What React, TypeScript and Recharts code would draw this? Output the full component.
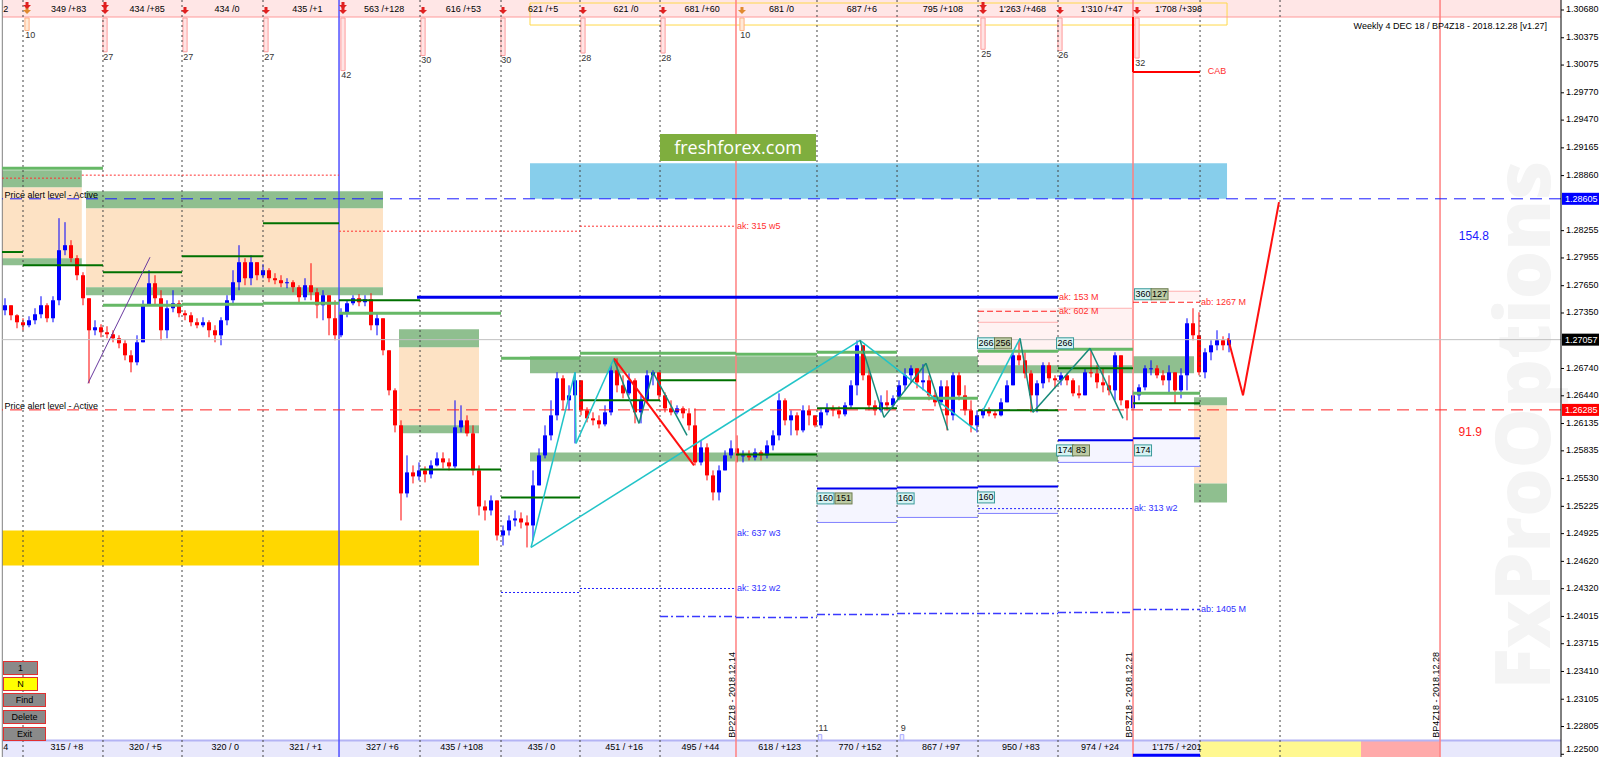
import React from 'react';
import { ComposedChart, Bar, XAxis, YAxis, ReferenceLine, ReferenceArea, ReferenceDot } from 'recharts';

// candles: open of the first bar, then each bar opens at the previous close
const OPEN0 = 1.2738;
const closes = [
  1.27435, 1.27325, 1.27248, 1.27215, 1.2727, 1.27336, 1.27435, 1.27292, 1.2749, 1.2804,
  1.28095, 1.27952, 1.27765, 1.27512, 1.2716, 1.27193, 1.27138, 1.27116, 1.27072, 1.27017,
  1.26885, 1.26808, 1.27028, 1.27435, 1.27677, 1.27512, 1.2716, 1.27402, 1.27457, 1.27347,
  1.27325, 1.27248, 1.27215, 1.27248, 1.2716, 1.27105, 1.2727, 1.2749, 1.27688, 1.27908,
  1.27732, 1.27908, 1.27765, 1.2782, 1.27732, 1.2771, 1.27677, 1.27688, 1.27633, 1.27523,
  1.27655, 1.27578, 1.27435, 1.27545, 1.27292, 1.27105, 1.27358, 1.27457, 1.27512, 1.27468,
  1.27501, 1.27215, 1.27292, 1.2694, 1.265, 1.26115, 1.25367, 1.25598, 1.25554, 1.2562,
  1.25576, 1.25675, 1.25752, 1.25708, 1.25664, 1.26093, 1.2617, 1.26027, 1.2562, 1.25224,
  1.2518, 1.2529, 1.24905, 1.2496, 1.2507, 1.25092, 1.25048, 1.25015, 1.25455, 1.25785,
  1.26005, 1.26225, 1.26632, 1.2639, 1.26445, 1.2661, 1.2628, 1.26192, 1.2617, 1.26126,
  1.26258, 1.2672, 1.26555, 1.26467, 1.2661, 1.26258, 1.2639, 1.26665, 1.26698, 1.26445,
  1.26302, 1.26258, 1.26302, 1.26247, 1.26115, 1.25708, 1.25873, 1.25565, 1.25378, 1.2562,
  1.25785, 1.25862, 1.25785, 1.25785, 1.25763, 1.25818, 1.25785, 1.25895, 1.26005, 1.2639,
  1.2617, 1.26225, 1.2606, 1.2628, 1.26225, 1.26115, 1.26258, 1.26302, 1.2628, 1.26236,
  1.26335, 1.26555, 1.26995, 1.26665, 1.26335, 1.2628, 1.26368, 1.26335, 1.26412, 1.26555,
  1.26665, 1.26742, 1.26588, 1.2661, 1.26445, 1.26368, 1.26544, 1.26225, 1.26665, 1.26445,
  1.2628, 1.26115, 1.26225, 1.2628, 1.26247, 1.26225, 1.26368, 1.26555, 1.26885, 1.2683,
  1.26687, 1.26445, 1.26577, 1.26775, 1.26632, 1.2661, 1.26665, 1.2661, 1.26467, 1.26445,
  1.26698, 1.26687, 1.26588, 1.26555, 1.265, 1.26885, 1.2639, 1.26302, 1.26445, 1.26533,
  1.26742, 1.26742, 1.26665, 1.2661, 1.26698, 1.265, 1.26665, 1.27237, 1.27105, 1.26698,
  1.26918, 1.26995, 1.2705, 1.26995, 1.27057,
];
const highs = [
  1.27512, 1.27435, 1.27336, 1.27292, 1.27314, 1.27402, 1.27534, 1.27457, 1.27534, 1.28392,
  1.28348, 1.2815, 1.27985, 1.27798, 1.27512, 1.2727, 1.27226, 1.27204, 1.2716, 1.27105,
  1.2705, 1.2694, 1.27105, 1.2749, 1.2782, 1.27765, 1.276, 1.2749, 1.276, 1.2749,
  1.2738, 1.27358, 1.27292, 1.27303, 1.2727, 1.27215, 1.27303, 1.27545, 1.2782, 1.28095,
  1.27952, 1.27985, 1.27908, 1.27886, 1.27842, 1.27787, 1.27765, 1.27732, 1.2771, 1.27655,
  1.27732, 1.27897, 1.27622, 1.276, 1.2749, 1.2749, 1.27402, 1.2749, 1.27545, 1.27556,
  1.27545, 1.27567, 1.27358, 1.27248, 1.2694, 1.26522, 1.2617, 1.25785, 1.25675, 1.25708,
  1.25664, 1.2573, 1.25818, 1.25818, 1.25752, 1.2639, 1.26335, 1.26225, 1.26115, 1.25675,
  1.2529, 1.25345, 1.25235, 1.25015, 1.25125, 1.2518, 1.25158, 1.25125, 1.2562, 1.25862,
  1.26115, 1.2639, 1.26698, 1.26665, 1.26555, 1.26698, 1.2639, 1.26313, 1.26258, 1.26225,
  1.26335, 1.26775, 1.26852, 1.26665, 1.26687, 1.26632, 1.26445, 1.2672, 1.2672, 1.26665,
  1.26478, 1.2639, 1.26335, 1.26324, 1.26302, 1.26302, 1.2595, 1.25917, 1.2562, 1.25675,
  1.2584, 1.2595, 1.26005, 1.2584, 1.2584, 1.25862, 1.2584, 1.2595, 1.2606, 1.26467,
  1.26412, 1.2628, 1.26258, 1.26335, 1.26335, 1.26225, 1.26302, 1.26357, 1.26335, 1.26324,
  1.26368, 1.2661, 1.2705, 1.26995, 1.2672, 1.2639, 1.26445, 1.265, 1.26445, 1.2661,
  1.26742, 1.26775, 1.26742, 1.26786, 1.26665, 1.265, 1.2661, 1.2661, 1.26698, 1.26698,
  1.26555, 1.2639, 1.2628, 1.26302, 1.26313, 1.2628, 1.26412, 1.2661, 1.2694, 1.27061,
  1.2694, 1.2672, 1.2661, 1.26808, 1.26808, 1.26665, 1.26698, 1.26687, 1.26632, 1.26555,
  1.26742, 1.26962, 1.26775, 1.26742, 1.26665, 1.26918, 1.26775, 1.2639, 1.265, 1.26566,
  1.26775, 1.2683, 1.26775, 1.2672, 1.26775, 1.26698, 1.26742, 1.27292, 1.27402, 1.27358,
  1.26962, 1.2705, 1.2716, 1.27094, 1.27127,
];
const lows = [
  1.27325, 1.2727, 1.27182, 1.2716, 1.27193, 1.27226, 1.27292, 1.27248, 1.27248, 1.27435,
  1.27985, 1.27908, 1.2771, 1.27435, 1.26577, 1.27105, 1.27083, 1.27072, 1.27028, 1.26962,
  1.2683, 1.26698, 1.26775, 1.2705, 1.27435, 1.27435, 1.2705, 1.27072, 1.27358, 1.27303,
  1.2727, 1.27204, 1.27182, 1.27193, 1.27083, 1.27028, 1.26995, 1.27215, 1.27435, 1.276,
  1.27655, 1.27655, 1.2771, 1.27732, 1.27688, 1.27666, 1.27633, 1.27622, 1.27578, 1.27468,
  1.2749, 1.2749, 1.27292, 1.2727, 1.27105, 1.2705, 1.27083, 1.27303, 1.27435, 1.27424,
  1.27424, 1.2716, 1.27105, 1.26885, 1.26445, 1.26038, 1.2507, 1.25323, 1.25477, 1.2551,
  1.25488, 1.25532, 1.25664, 1.25642, 1.2562, 1.25642, 1.26038, 1.25994, 1.25565, 1.25125,
  1.2507, 1.25125, 1.2485, 1.24795, 1.24905, 1.25004, 1.24982, 1.24773, 1.2485, 1.25455,
  1.25752, 1.2595, 1.2617, 1.2628, 1.2628, 1.25917, 1.26225, 1.26148, 1.26115, 1.26082,
  1.26104, 1.26225, 1.26478, 1.26412, 1.26445, 1.26137, 1.26137, 1.26368, 1.26555, 1.2639,
  1.26258, 1.26225, 1.26236, 1.26192, 1.2606, 1.25675, 1.25675, 1.2551, 1.2529, 1.2529,
  1.2562, 1.25752, 1.25708, 1.25708, 1.2573, 1.2573, 1.2573, 1.25752, 1.2584, 1.2595,
  1.26115, 1.26005, 1.26005, 1.26038, 1.26115, 1.26093, 1.26082, 1.26225, 1.26214, 1.26192,
  1.26214, 1.26302, 1.26445, 1.2661, 1.2628, 1.26225, 1.26258, 1.2628, 1.26302, 1.2639,
  1.265, 1.26588, 1.26522, 1.265, 1.2639, 1.26324, 1.26335, 1.2606, 1.2617, 1.2639,
  1.26225, 1.26038, 1.26038, 1.26192, 1.26214, 1.26192, 1.26214, 1.26368, 1.26555, 1.26775,
  1.26632, 1.26258, 1.26258, 1.26522, 1.26588, 1.26522, 1.26555, 1.26555, 1.26434, 1.26412,
  1.26478, 1.26643, 1.26522, 1.26478, 1.26445, 1.2639, 1.26335, 1.2617, 1.26368, 1.2639,
  1.265, 1.26665, 1.26632, 1.26555, 1.26467, 1.26357, 1.26412, 1.265, 1.2705, 1.26665,
  1.26632, 1.2683, 1.2694, 1.2694, 1.26918,
];

// axis ticks (1.28555 and 1.27045 sit under the price boxes, so they are left out)
const priceTicks = [
  1.3068, 1.30375, 1.30075, 1.2977, 1.2947, 1.29165, 1.2886, 1.28255, 1.27955,
  1.2765, 1.2735, 1.2674, 1.2644, 1.26135, 1.25835, 1.2553, 1.25225, 1.24925,
  1.2462, 1.2432, 1.24015, 1.23715, 1.2341, 1.23105, 1.22805, 1.225,
];
const alertHigh = 1.28605;
const alertLow = 1.26285;
const lastPrice = 1.27057;

// session separators, in bar index
const sessionX = [3, 16.33, 29.5, 43, 55.67, 69.17, 82.67, 95.83, 109.17, 121.83, 135.33, 148.67, 162.17, 175.5, 188, 199.17, 212.5, 239.17];
const sessionKind = ['d', 'd', 'd', 'd', 'b', 'd', 'd', 'd', 'd', 'r', 'd', 'd', 'd', 'd', 'r', 'd', 'd', 'r'];

const statPos = [10.6, 23.7, 37, 50.4, 63.2, 76.4, 89.7, 103.5, 116.2, 129.4, 142.8, 156.3, 169.6, 182.8, 195.6];
const topStats = ['349 /+83', '434 /+85', '434 /0', '435 /+1', '563 /+128', '616 /+53', '621 /+5', '621 /0', '681 /+60', '681 /0', '687 /+6', '795 /+108', "1'263 /+468", "1'310 /+47", "1'708 /+398"];
const bottomStats = ['315 / +8', '320 / +5', '320 / 0', '321 / +1', '327 / +6', '435 / +108', '435 / 0', '451 / +16', '495 / +44', '618 / +123', '770 / +152', '867 / +97', '950 / +83', '974 / +24', "1'175 / +201"];

const markAt = [3.67, 16.67, 30, 43.5, 56.33, 69.67, 83, 96.33, 109.67, 122.83, 163, 175.83, 188.67];
const markCount = [10, 27, 27, 27, 42, 30, 30, 28, 28, 10, 25, 26, 32];
const markDouble = [3.67, 16.67, 56.33, 163];

const rolloverX = [121.83, 188, 239.17];
const rolloverText = ['BP2Z18 - 2018.12.14', 'BP3Z18 - 2018.12.21', 'BP4Z18 - 2018.12.28'];

// zones [x1, x2, top, bottom]
const peachZones = [
  [-0.5, 12.8, 1.28733, 1.27952],
  [13.5, 63, 1.28502, 1.27633],
  [65.67, 79, 1.26973, 1.26115],
  [198.17, 203.67, 1.26335, 1.25477],
];
const greenZones = [
  [-0.5, 12.8, 1.2892, 1.28733],
  [-0.5, 12.8, 1.27952, 1.27875],
  [13.5, 63, 1.28689, 1.28502],
  [13.5, 63, 1.27633, 1.27545],
  [65.67, 79, 1.27171, 1.26973],
  [65.67, 79, 1.26115, 1.26027],
  [198.17, 203.67, 1.26423, 1.26335],
  [198.17, 203.67, 1.25477, 1.25268],
  [87.5, 198.17, 1.26874, 1.26687],
  [87.5, 198.17, 1.25818, 1.25719],
];
const skyZone = [87.5, 203.67, 1.28997, 1.28605];
const goldZone = [-0.5, 79, 1.2496, 1.24575];
const pinkZones = [
  [162.17, 188, 1.27402, 1.26775],
  [188, 199.17, 1.27589, 1.2749],
];
const lavenderZones = [
  [135.33, 148.67, 1.25422, 1.25048],
  [148.67, 162.17, 1.25433, 1.25103],
  [162.17, 175.5, 1.25444, 1.25147],
  [175.5, 188, 1.2595, 1.25708],
  [188, 199.17, 1.25972, 1.25664],
];

// level segments [x1, x2, price]
const darkGreen = [
  [-0.5, 3, 1.2802], [3, 16.33, 1.27875], [16.33, 29.5, 1.27798], [29.5, 43, 1.27974],
  [43, 55.67, 1.28337], [55.67, 69.17, 1.2749], [69.17, 82.67, 1.25631], [82.67, 95.83, 1.25323],
  [95.83, 109.17, 1.2639], [109.17, 121.83, 1.2661], [121.83, 135.33, 1.25796], [135.33, 148.67, 1.26302],
  [162.17, 175.5, 1.2628], [175.5, 188, 1.26742], [188, 199.17, 1.26357],
];
const lightGreen = [
  [-0.5, 16.33, 1.28942], [16.33, 29.5, 1.27435], [29.5, 43, 1.27446], [43, 55.67, 1.27457],
  [55.67, 82.67, 1.27347], [82.67, 95.83, 1.26852], [95.83, 121.83, 1.26907], [121.83, 135.33, 1.26896],
  [135.33, 148.67, 1.26918], [148.67, 162.17, 1.26412], [162.17, 175.5, 1.26929], [175.5, 188, 1.26951],
  [188, 199.17, 1.26467],
];
const blueLevels = [
  [68.67, 175.5, 1.27523], [135.33, 148.67, 1.25422], [148.67, 162.17, 1.25433],
  [162.17, 175.5, 1.25444], [175.5, 188, 1.2595], [188, 199.17, 1.25972],
];
const thinBlue = [
  [135.33, 148.67, 1.25048], [148.67, 162.17, 1.25103], [162.17, 175.5, 1.25147],
  [175.5, 188, 1.25708], [188, 199.17, 1.25664],
];
const blueDotted = [[82.67, 95.83, 1.24278], [95.83, 121.83, 1.24322], [162.17, 188, 1.252]];
const blueDashDot = [
  [109.17, 121.83, 1.24014], [121.83, 135.33, 1.24003], [135.33, 148.67, 1.24036],
  [148.67, 175.5, 1.24047], [175.5, 188, 1.24058], [188, 199.17, 1.24091],
];
const redDotted = [[-0.5, 12.8, 1.28832], [12.8, 55.67, 1.28865], [55.67, 95.83, 1.28249], [95.83, 121.83, 1.28304]];
const redDashed = [[162.17, 175.5, 1.27369], [188, 199.17, 1.27468]];
const pinkLevels = [[162.17, 175.5, 1.27248], [175.5, 188, 1.27402], [188, 199.17, 1.27589]];
const cabLevel = [188, 199.17, 1.29998, 1.30603];

// zigzags, points [bar index, price]
const cyanPaths = [
  [[87.67, 1.24773], [95, 1.26698], [95.17, 1.25917], [101.5, 1.26852]],
  [[87.67, 1.24773], [142.5, 1.2705], [161.83, 1.2606]],
  [[163, 1.2628], [169.17, 1.27072]],
];
const tealPaths = [
  [[101.5, 1.2683], [105.67, 1.26137], [108, 1.26698], [113.67, 1.26005]],
  [[142.5, 1.2705], [146.5, 1.26203], [153.5, 1.26797], [157.17, 1.2606]],
  [[169.17, 1.27072], [171.33, 1.26258], [180.83, 1.26962], [186.33, 1.26192]],
];
const redPaths = [
  [[101.5, 1.26852], [114.83, 1.25675]],
  [[203.83, 1.27072], [206.33, 1.26445], [212.33, 1.28568]],
];
const purplePath = [[13.83, 1.26577], [24.17, 1.27963]];

// notes [text, bar index, price]
const redNotes = [
  ['ak: 315 w5', 121.83, 1.28304], ['ak: 153 M', 175.5, 1.27523], ['ak: 602 M', 175.5, 1.27369],
  ['ab: 1267 M', 199.17, 1.27468], ['CAB', 200.3, 1.29998],
];
const blueNotes = [
  ['ak: 637 w3', 121.83, 1.24927], ['ak: 312 w2', 121.83, 1.24322],
  ['ak: 313 w2', 188, 1.252], ['ab: 1405 M', 199.17, 1.24091],
];
// tags [text, bar index, price, kind]
const tags = [
  ['160', 136.75, 1.25312, 'c'], ['151', 139.75, 1.25312, 'g'], ['160', 150.1, 1.25312, 'c'],
  ['160', 163.5, 1.25323, 'c'], ['174', 176.67, 1.2584, 'c'], ['83', 179.33, 1.2584, 'g'],
  ['174', 189.67, 1.2584, 'c'], ['266', 163.5, 1.27017, 'c'], ['256', 166.33, 1.27017, 'g'],
  ['266', 176.67, 1.27017, 'c'], ['360', 189.67, 1.27556, 'c'], ['127', 192.42, 1.27556, 'g'],
];

const candles = closes.map((c, i) => {
  const o = i === 0 ? OPEN0 : closes[i - 1];
  const h = Math.max(highs[i], o, c);
  const l = Math.min(lows[i], o, c);
  return { i, open: o, close: c, high: h, low: l, range: [l, h] };
});

const Candle = (props: any) => {
  const { x, y, width, height, payload } = props;
  if (!payload || height == null) return null;
  const up = payload.close >= payload.open;
  const color = up ? '#0000ff' : '#ff0000';
  const k = height / Math.max(payload.high - payload.low, 1e-9);
  const mid = x + width / 2;
  const top = y + (payload.high - Math.max(payload.open, payload.close)) * k;
  const bh = Math.max(Math.abs(payload.open - payload.close) * k, 1);
  return (
    <g>
      <line x1={mid} x2={mid} y1={y} y2={y + height} stroke={color} strokeWidth={1} />
      <rect x={x} y={top} width={width} height={bh} fill={color} />
    </g>
  );
};

// price tick, kept inside the frame at the very bottom
const PriceTick = (props: any) => {
  const { x, y, payload } = props;
  return (
    <text x={x} y={Math.min(y, 750)} fontSize={9} fill="#000" dominantBaseline="middle">{Number(payload.value).toFixed(5)}</text>
  );
};

const seg = (key: string, x1: number, y1: number, x2: number, y2: number, stroke: string, w: number, dash?: string) => (
  <ReferenceLine key={key} segment={[{ x: x1, y: y1 }, { x: x2, y: y2 }]} stroke={stroke} strokeWidth={w} strokeDasharray={dash} ifOverflow="visible" />
);
const area = (key: string, z: number[], fill: string, op = 1, stroke = 'none') => (
  <ReferenceArea key={key} x1={z[0]} x2={z[1]} y1={z[2]} y2={z[3]} fill={fill} fillOpacity={op} stroke={stroke} ifOverflow="visible" />
);
const at = (key: string, x: number, y: number, draw: (cx: number, cy: number) => React.ReactElement) => (
  <ReferenceDot key={key} x={x} y={y} r={0} ifOverflow="visible" shape={(p: any) => draw(p.cx, p.cy)} />
);
const path = (key: string, pts: number[][], stroke: string, w: number) =>
  pts.slice(1).map((p, j) => seg(`${key}-${j}`, pts[j][0], pts[j][1], p[0], p[1], stroke, w));

const btn = (label: string, top: number, w: number, bg: string) => (
  <div key={label} style={{ position: 'absolute', left: 3, top, width: w, height: 12, background: bg, border: '1px solid #e03030', fontSize: 9, lineHeight: '12px', textAlign: 'center', color: '#000' }}>{label}</div>
);

export default function App() {
  return (
    <div style={{ position: 'absolute', left: 0, top: 0, width: 1600, height: 757, background: '#fff', fontFamily: '"Liberation Sans", Arial, sans-serif', overflow: 'hidden' }}>
      <div style={{ position: 'absolute', left: 1520, top: 425, transform: 'translate(-50%, -50%) rotate(-90deg)', fontFamily: '"Open Sans", sans-serif', fontWeight: 800, fontSize: 76, color: '#f4f4f4', whiteSpace: 'nowrap' }}>FxProOptions</div>
      <div style={{ position: 'absolute', left: 0, top: 0 }}>
        <ComposedChart width={1600} height={757} data={candles} margin={{ top: 0, right: 0, bottom: 0, left: 2 }}>
          <XAxis dataKey="i" type="number" domain={[-0.5, 259.33]} allowDataOverflow hide />
          <YAxis orientation="right" domain={[1.2247, 1.3079]} allowDataOverflow ticks={priceTicks} interval={0} width={39} tickSize={3} tickMargin={2}
            tick={<PriceTick />} axisLine={{ stroke: '#000' }} tickLine={{ stroke: '#000' }} />

          {area('topbar', [-0.5, 259.33, 1.3079, 1.30603], '#ffe6e6')}
          {area('botbar', [-0.5, 259.33, 1.2265, 1.2247], '#e8e8fc')}
          {area('botyel', [199.17, 226, 1.2265, 1.2247], '#fff890')}
          {area('botpink', [226, 239.17, 1.2265, 1.2247], '#ffaaaa')}
          {seg('topline', -0.5, 1.30603, 259.33, 1.30603, '#ff9a9a', 1)}
          {seg('botline', -0.5, 1.2265, 259.33, 1.2265, '#b4b4f4', 2)}
          {area('topbox', [87.5, 203.67, 1.30757, 1.30515], 'none', 1, '#ffd84a')}

          {peachZones.map((z, k) => area(`pz${k}`, z, '#fde2c4'))}
          {greenZones.map((z, k) => area(`gz${k}`, z, '#8fbf8f'))}
          {area('sky', skyZone, '#87ceeb')}
          {area('gold', goldZone, '#ffd700')}
          {pinkZones.map((z, k) => area(`pk${k}`, z, '#fff2f2'))}
          {lavenderZones.map((z, k) => area(`lv${k}`, z, '#f5f5ff'))}

          <ReferenceLine x={-0.45} stroke="#808080" ifOverflow="visible" />
          {sessionX.map((sx, k) => (
            <ReferenceLine key={`s${k}`} x={sx} ifOverflow="visible"
              stroke={sessionKind[k] === 'b' ? '#5050ff' : sessionKind[k] === 'r' ? '#ff8080' : '#444'}
              strokeWidth={sessionKind[k] === 'd' ? 1 : 1.5} strokeDasharray={sessionKind[k] === 'd' ? '2 3' : undefined} />
          ))}

          {markAt.map((m, k) => area(`mk${k}`, [m - 0.35, m + 0.35, 1.30592, 1.30592 - markCount[k] * 0.0001375],
            markCount[k] === 10 ? '#ffe9d6' : '#ffe4e4', 1, markCount[k] === 10 ? '#ffb080' : '#ff9c9c'))}
          {markAt.map((m, k) => at(`mt${k}`, m - 0.3, 1.30592 - markCount[k] * 0.0001375 - 0.0006, (cx, cy) => (
            <text x={cx} y={cy} fontSize={9} fill="#333" dominantBaseline="middle">{markCount[k]}</text>
          )))}
          {markAt.map((m, k) => at(`ma${k}`, m, 1.3067, (cx, cy) => (
            <path d={`M${cx - 4},${cy - 1} L${cx + 4},${cy - 1} L${cx},${cy + 3} Z M${cx - 1.5},${cy - 4} h3 v3 h-3 Z`} fill={markCount[k] === 10 ? '#e08a30' : '#e02020'} />
          )))}
          {markDouble.map((m, k) => at(`md${k}`, m, 1.30725, (cx, cy) => (
            <path d={`M${cx - 4},${cy - 1} L${cx + 4},${cy - 1} L${cx},${cy + 3} Z M${cx - 1.5},${cy - 4} h3 v3 h-3 Z`} fill="#e02020" />
          )))}
          {topStats.map((t, k) => at(`ts${k}`, statPos[k], 1.3068, (cx, cy) => (
            <text x={cx} y={cy} fontSize={9} fill="#000" textAnchor="middle" dominantBaseline="middle">{t}</text>
          )))}
          {bottomStats.map((t, k) => at(`bs${k}`, statPos[k] - 0.3, 1.22573, (cx, cy) => (
            <text x={cx} y={cy} fontSize={9} fill="#000" textAnchor="middle" dominantBaseline="middle">{t}</text>
          )))}
          {at('t2', -0.3, 1.3068, (cx, cy) => <text x={cx} y={cy} fontSize={9} dominantBaseline="middle">2</text>)}
          {at('b4', -0.3, 1.22573, (cx, cy) => <text x={cx} y={cy} fontSize={9} dominantBaseline="middle">4</text>)}
          {[135.83, 149.5].map((m, k) => area(`bm${k}`, [m - 0.3, m + 0.3, 1.22716, 1.2265], '#eef0ff', 1, '#a8a8ff'))}
          {[['11', 135.6], ['9', 149.3]].map(([t, m], k) => at(`bt${k}`, m as number, 1.2278, (cx, cy) => (
            <text x={cx} y={cy} fontSize={9} fill="#333" dominantBaseline="middle">{t}</text>
          )))}
          {seg('botblue', 188, 1.2249, 199.17, 1.2249, '#0000ff', 3)}

          <Bar dataKey="range" barSize={4} shape={<Candle />} isAnimationActive={false} />

          <ReferenceLine y={lastPrice} stroke="#c0c0c0" ifOverflow="visible" />
          <ReferenceLine y={alertHigh} stroke="#1a1aff" strokeDasharray="12 7" ifOverflow="visible" />
          <ReferenceLine y={alertLow} stroke="#ff2020" strokeDasharray="12 7" ifOverflow="visible" />

          {redDotted.map((s, k) => seg(`rd${k}`, s[0], s[2], s[1], s[2], '#ff3030', 1, '2 2'))}
          {pinkLevels.map((s, k) => seg(`pl${k}`, s[0], s[2], s[1], s[2], '#ffb0b0', 1))}
          {redDashed.map((s, k) => seg(`rx${k}`, s[0], s[2], s[1], s[2], '#ff2020', 1, '6 3'))}
          {blueDotted.map((s, k) => seg(`bd${k}`, s[0], s[2], s[1], s[2], '#2020ff', 1, '2 2'))}
          {blueDashDot.map((s, k) => seg(`bx${k}`, s[0], s[2], s[1], s[2], '#3a3aff', 1.5, '8 3 2 3'))}
          {thinBlue.map((s, k) => seg(`tb${k}`, s[0], s[2], s[1], s[2], '#8080ff', 1))}
          {blueLevels.map((s, k) => seg(`bl${k}`, s[0], s[2], s[1], s[2], '#0000ee', k === 0 ? 3 : 2))}
          {lightGreen.map((s, k) => seg(`lg${k}`, s[0], s[2], s[1], s[2], '#66b866', 3))}
          {darkGreen.map((s, k) => seg(`dg${k}`, s[0], s[2], s[1], s[2], '#007000', 2))}
          {seg('cabv', cabLevel[0], cabLevel[3], cabLevel[0], cabLevel[2], '#ff0000', 2)}
          {seg('cabh', cabLevel[0], cabLevel[2], cabLevel[1], cabLevel[2], '#ff0000', 2)}

          {cyanPaths.map((p, k) => path(`cy${k}`, p, '#22c4c8', 1.5))}
          {tealPaths.map((p, k) => path(`te${k}`, p, '#178a7a', 1.5))}
          {redPaths.map((p, k) => path(`rp${k}`, p, '#ff1010', 2))}
          {path('pu', purplePath, '#6a3aa0', 1)}

          {redNotes.map(([t, x, y], k) => at(`rn${k}`, x as number, y as number, (cx, cy) => (
            <text x={cx + 1} y={cy} fontSize={9} fill="#ff3030" dominantBaseline="middle">{t}</text>
          )))}
          {blueNotes.map(([t, x, y], k) => at(`bn${k}`, x as number, y as number, (cx, cy) => (
            <text x={cx + 1} y={cy} fontSize={9} fill="#3030ff" dominantBaseline="middle">{t}</text>
          )))}
          {tags.map(([t, x, y, kind], k) => at(`tg${k}`, x as number, y as number, (cx, cy) => (
            <g>
              <rect x={cx - 8.5} y={cy - 5.5} width={17} height={11} fill={kind === 'c' ? '#d6f3f3' : '#bccaa4'} stroke={kind === 'c' ? '#3a9a9a' : '#6c7c50'} />
              <text x={cx} y={cy + 0.5} fontSize={9} fill="#000" textAnchor="middle" dominantBaseline="middle">{t}</text>
            </g>
          )))}
          {rolloverX.map((rx, k) => at(`ro${k}`, rx - 0.15, 1.22683, (cx, cy) => (
            <text x={cx} y={cy} fontSize={9} fill="#000" transform={`rotate(-90 ${cx} ${cy})`}>{rolloverText[k]}</text>
          )))}
          {at('pa1', -0.1, alertHigh, (cx, cy) => <text x={cx} y={cy - 1} fontSize={9} fill="#000">Price alert level - Active</text>)}
          {at('pa2', -0.1, alertLow, (cx, cy) => <text x={cx} y={cy - 1} fontSize={9} fill="#000">Price alert level - Active</text>)}
          {at('n1', 244.8, 1.28183, (cx, cy) => <text x={cx} y={cy} fontSize={12} fill="#2020ff" textAnchor="middle" dominantBaseline="middle">154.8</text>)}
          {at('n2', 244.2, 1.26038, (cx, cy) => <text x={cx} y={cy} fontSize={12} fill="#ff2020" textAnchor="middle" dominantBaseline="middle">91.9</text>)}

          {[[alertHigh, '#0000ff', '#fff'], [alertLow, '#ff0000', '#fff'], [lastPrice, '#000', '#fff']].map(([p, bg, fg], k) =>
            at(`px${k}`, 259.33, p as number, (cx, cy) => (
              <g>
                <rect x={cx + 1} y={cy - 6} width={37} height={12} fill={bg as string} />
                <text x={cx + 4} y={cy + 0.5} fontSize={9} fill={fg as string} dominantBaseline="middle">{(p as number).toFixed(5)}</text>
              </g>
            )))}
        </ComposedChart>
      </div>
      <div style={{ position: 'absolute', left: 660, top: 134, width: 156, height: 27, background: '#7fae3e', color: '#fff', fontFamily: '"Open Sans", sans-serif', fontSize: 18, lineHeight: '27px', textAlign: 'center' }}>freshforex.com</div>
      <div style={{ position: 'absolute', right: 53, top: 21, fontSize: 9, color: '#000', whiteSpace: 'nowrap' }}>Weekly 4 DEC 18 / BP4Z18 - 2018.12.28 [v1.27]</div>
      {btn('1', 661, 33, '#8a8a8a')}
      {btn('N', 677, 33, '#ffff00')}
      {btn('Find', 693, 41, '#8a8a8a')}
      {btn('Delete', 710, 41, '#8a8a8a')}
      {btn('Exit', 727, 41, '#8a8a8a')}
    </div>
  );
}
